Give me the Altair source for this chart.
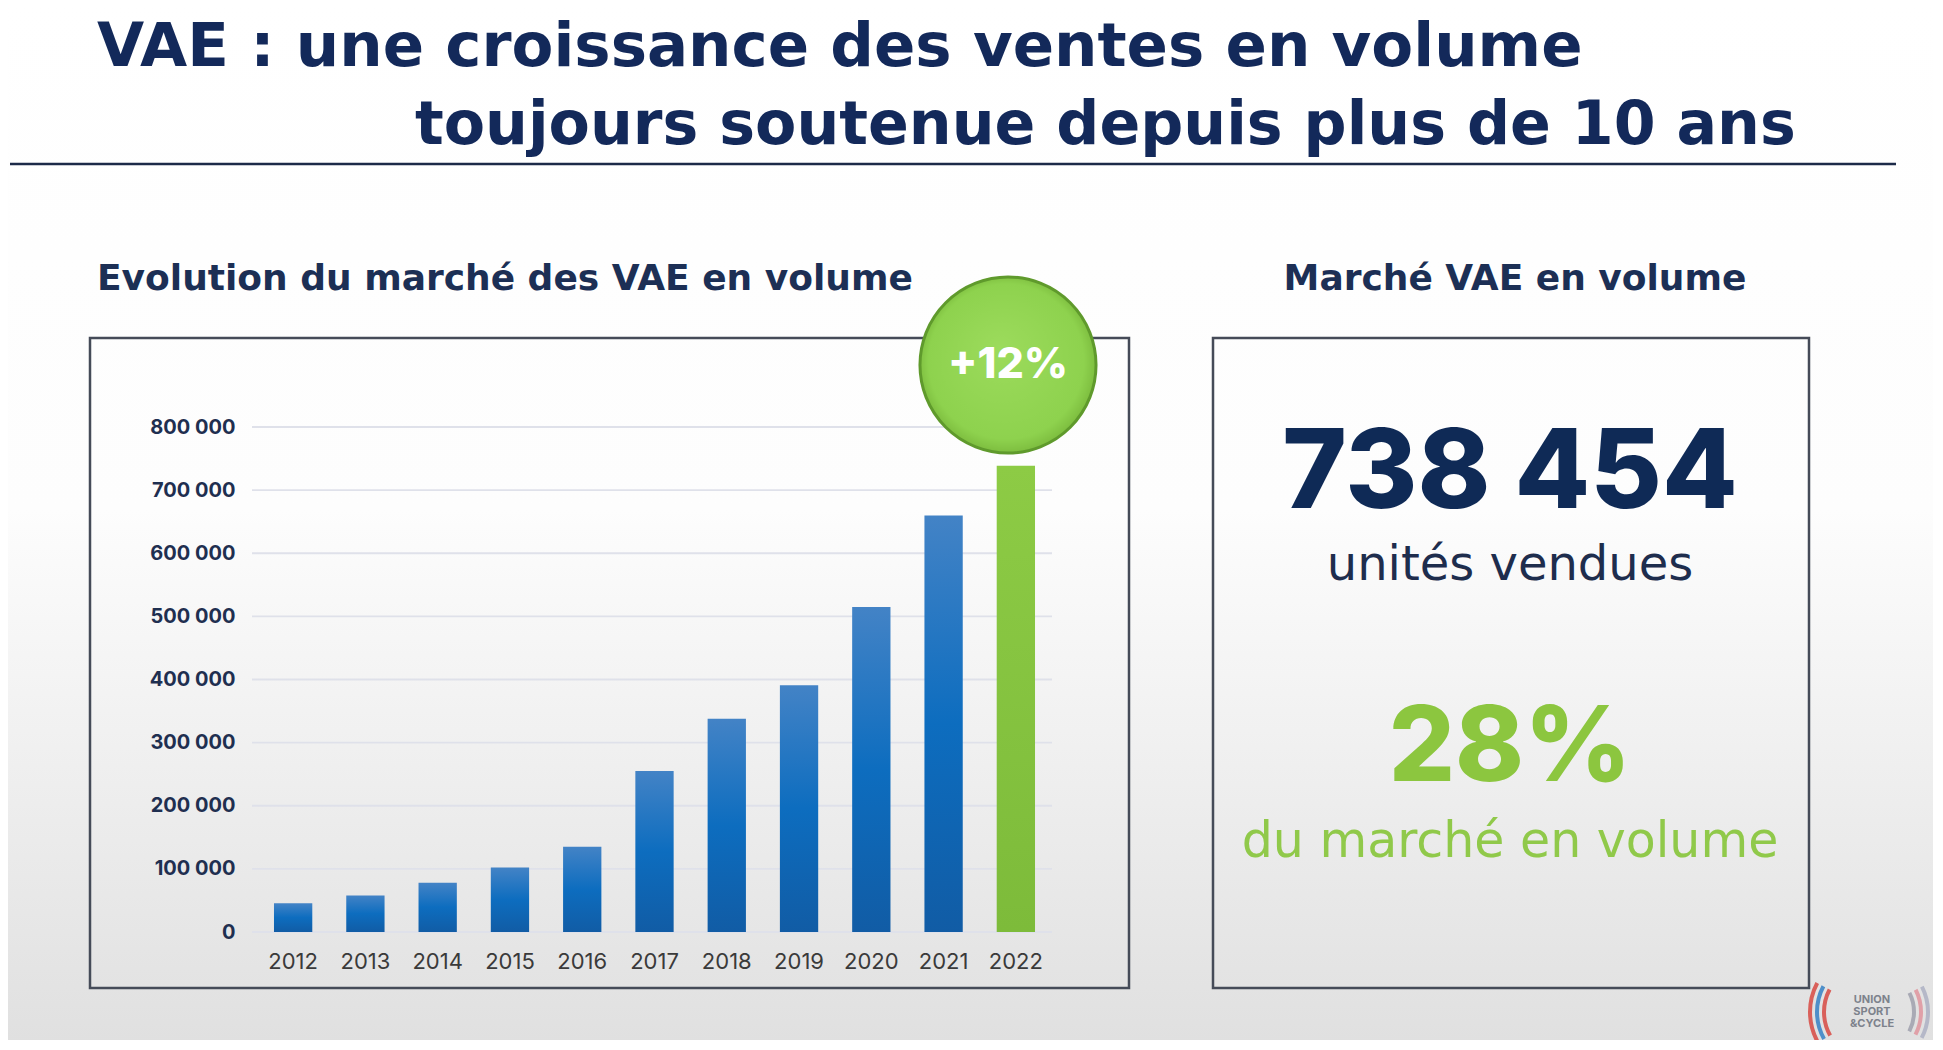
import altair as alt
import pandas as pd

# ---------------- data ----------------
years = ["2012", "2013", "2014", "2015", "2016", "2017", "2018", "2019", "2020", "2021", "2022"]
ventes = [45500, 58000, 78000, 102000, 135000, 255000, 338000, 391000, 515000, 660000, 738454]
y_ticks = [0, 100000, 200000, 300000, 400000, 500000, 600000, 700000, 800000]
highlight_year = "2022"
growth_label = "+12%"
title_lines = ["VAE : une croissance des ventes en volume", "toujours soutenue depuis plus de 10 ans"]
panel_titles = ["Evolution du marché des VAE en volume", "Marché VAE en volume"]
kpi_texts = ["738 454", "unités vendues", "28%", "du marché en volume"]
logo_lines = ["UNION", "SPORT", "&CYCLE"]

df = pd.DataFrame({"annee": years, "ventes": ventes})
df_ticks = pd.DataFrame({"v": y_ticks})
one = pd.DataFrame({"k": [0]})

# plot area origin on the page: (257, 427); size 795 x 505
OX, OY = 257, 427
W, H = 795, 505
PAD = {"left": OX - 8, "top": OY - 8, "right": 1925 - (OX - 8) - W, "bottom": 1032 - (OY - 8) - H}

NAVY = "#13295a"
GREEN = "#8cc63f"
FONT = "Inter"
WIDE = "DejaVu Sans"


def px(x):
    return x - OX


def py(y):
    return y - OY


def txt(s, x, y, font=FONT, **style):
    return alt.Chart(pd.DataFrame({"t": [s]})).mark_text(font=font, **style).encode(
        text="t:N", x=alt.value(px(x)), y=alt.value(py(y))
    )


def box(x1, y1, x2, y2, **style):
    return alt.Chart(one).mark_rect(**style).encode(
        x=alt.value(px(x1)), x2=alt.value(px(x2)), y=alt.value(py(y1)), y2=alt.value(py(y2))
    )


def arc(cx, cy, r, t1, t2, color):
    return alt.Chart(one).mark_arc(theta=t1, theta2=t2, radius=r + 4, radius2=r, color=color).encode(
        x=alt.value(px(cx)), y=alt.value(py(cy)))


# background gradient
bg = box(0, 0, 1950, 1060, fill=alt.Gradient(
    gradient="linear", x1=0, y1=0, x2=0, y2=1,
    stops=[alt.GradientStop(color="#ffffff", offset=0),
           alt.GradientStop(color="#fdfdfd", offset=0.48),
           alt.GradientStop(color="#dfdfdf", offset=1)]))

# header
t1 = txt(title_lines[0], 97, 66, font=WIDE, fontSize=61, fontWeight="bold", color=NAVY,
         align="left", baseline="alphabetic")
t2 = txt(title_lines[1], 415, 144, font=WIDE, fontSize=60.2, fontWeight="bold", color=NAVY,
         align="left", baseline="alphabetic")
hrule = alt.Chart(one).mark_rule(color="#1c2a48", strokeWidth=2.5).encode(
    x=alt.value(px(10)), x2=alt.value(px(1896)), y=alt.value(py(164)))

st1 = txt(panel_titles[0], 97, 290, font=WIDE, fontSize=36, fontWeight="bold", color="#1c2f55",
          align="left", baseline="alphabetic")
st2 = txt(panel_titles[1], 1515, 290, font=WIDE, fontSize=36, fontWeight="bold", color="#1c2f55",
          align="center", baseline="alphabetic")

# frames
frame_l = box(90, 338, 1129, 988, fill=None, stroke="#454b58", strokeWidth=2.5)
frame_r = box(1213, 338, 1809, 988, fill=None, stroke="#454b58", strokeWidth=2.5)

# chart
x_enc = alt.X("annee:N", sort=years, title=None,
              scale=alt.Scale(paddingInner=0.47, paddingOuter=0.235),
              axis=alt.Axis(labelAngle=0, labelFontSize=22, labelColor="#3a3a3a", labelFont=FONT,
                            labelPadding=19, ticks=False, domain=False, grid=False, zindex=1))
y_scale = alt.Scale(domain=[0, 800000], nice=False)

grid = alt.Chart(df_ticks).mark_rule(color="#dfe1ea", strokeWidth=1.8).encode(
    y=alt.Y("v:Q", scale=y_scale, title=None,
            axis=alt.Axis(values=y_ticks, labelExpr="replace(format(datum.value, ','), ',', ' ')",
                          labelFontSize=20, labelFontWeight=700, labelColor="#1f2f50", labelFont=FONT,
                          labelPadding=22, ticks=False, domain=False, grid=False, zindex=1)),
    x=alt.value(-5), x2=alt.value(W))

blue_grad = alt.Gradient(gradient="linear", x1=0, y1=0, x2=0, y2=1,
                         stops=[alt.GradientStop(color="#4383c6", offset=0),
                                alt.GradientStop(color="#0d6dbf", offset=0.5),
                                alt.GradientStop(color="#115ca5", offset=1)])
green_grad = alt.Gradient(gradient="linear", x1=0, y1=0, x2=0, y2=1,
                          stops=[alt.GradientStop(color="#8dcb45", offset=0),
                                 alt.GradientStop(color="#7dbb3a", offset=1)])

bars_blue = alt.Chart(df).transform_filter(alt.datum.annee != highlight_year).mark_bar(fill=blue_grad).encode(
    x=x_enc, y=alt.Y("ventes:Q", scale=y_scale))
bars_green = alt.Chart(df).transform_filter(alt.datum.annee == highlight_year).mark_bar(fill=green_grad).encode(
    x=x_enc, y=alt.Y("ventes:Q", scale=y_scale))

# growth badge
badge = alt.Chart(one).mark_circle(opacity=1, fill=alt.Gradient(
    gradient="radial", x1=0.45, y1=0.4, x2=0.5, y2=0.5, r1=0, r2=0.55,
    stops=[alt.GradientStop(color="#9cdb5c", offset=0),
           alt.GradientStop(color="#8ed24e", offset=0.8),
           alt.GradientStop(color="#72b035", offset=1)]),
    stroke="#5f9a2c", strokeWidth=3).encode(
    x=alt.value(px(1008)), y=alt.value(py(365)), size=alt.value(31000))
badge_txt = txt(growth_label, 1008, 365, fontSize=43, fontWeight=800, color="#ffffff", align="center",
                baseline="middle")

# KPI texts
k1 = txt(kpi_texts[0], 1510, 508, fontSize=110, fontWeight=800, color="#0f2a56", align="center", baseline="alphabetic")
k2 = txt(kpi_texts[1], 1510, 580, font=WIDE, fontSize=48, fontWeight="normal", color="#1e2d4d",
         align="center", baseline="alphabetic")
k3 = txt(kpi_texts[2], 1510, 781, fontSize=104, fontWeight=800, color=GREEN, align="center", baseline="alphabetic")
k4 = txt(kpi_texts[3], 1510, 857, font=WIDE, fontSize=49, fontWeight="normal", color="#90c94a",
         align="center", baseline="alphabetic")

# logo
lg = [txt(s, 1872, 1000 + 12 * i, fontSize=11, fontWeight="bold", color="#7d828c", align="center", baseline="middle")
      for i, s in enumerate(logo_lines)]
arcs = [
    arc(1872, 1012, 46, 4.2, 5.2, "#d9605a"),
    arc(1872, 1012, 53, 4.2, 5.2, "#4f8fc9"),
    arc(1872, 1012, 60, 4.2, 5.2, "#d9605a"),
    arc(1872, 1012, 40, 1.1, 2.05, "#a9aab5"),
    arc(1872, 1012, 47, 1.1, 2.05, "#e0a0a8"),
    arc(1872, 1012, 54, 1.1, 2.05, "#b5b8c8"),
]

chart = alt.layer(
    bg, t1, t2, hrule, st1, st2, frame_l, frame_r, grid, bars_blue, bars_green,
    badge, badge_txt, k1, k2, k3, k4, *lg, *arcs
).properties(
    width=W, height=H, padding=PAD, autosize=alt.AutoSizeParams(type="none"), background="#ffffff"
).configure_view(stroke=None)

chart.save("out.html", embed_options={"renderer": "svg", "actions": False})
